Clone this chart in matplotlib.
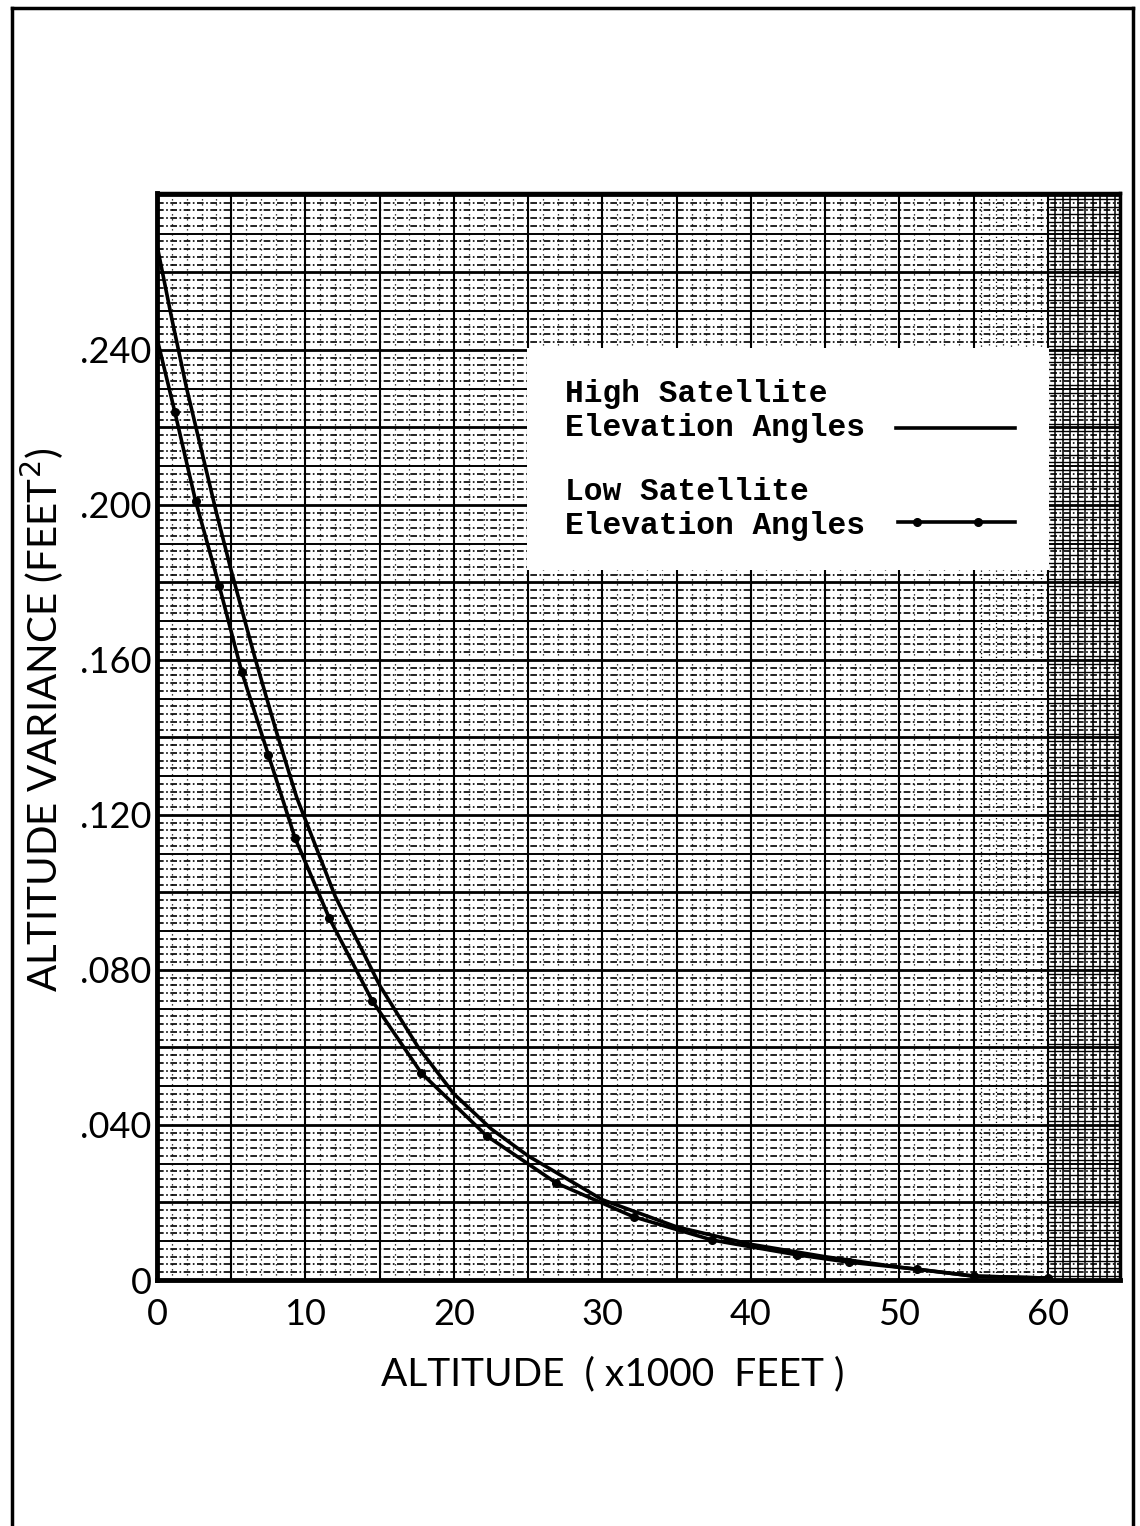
import matplotlib.pyplot as plt
import numpy as np
from matplotlib.lines import Line2D
from matplotlib.patches import Rectangle

# high satellite elevation angles (solid line)
high_alt = [0, 1, 2, 3, 4, 5, 6.6, 8, 9.4, 12, 15, 17.6, 20, 22.5, 25,
            30, 35, 40, 45, 50, 55, 60]
high_var = [0.267, 0.248, 0.230, 0.214, 0.198, 0.183, 0.1605, 0.142, 0.1246,
            0.099, 0.076, 0.060, 0.048, 0.039, 0.032, 0.0207, 0.0137, 0.0092,
            0.0060, 0.0033, 0.0010, 0.0005]

# low satellite elevation angles (line with dots)
low_alt = [0, 1.2, 2.6, 4.2, 5.7, 7.5, 9.3, 11.6, 14.5, 17.8, 22.2, 26.9,
           32.1, 37.4, 43.1, 46.6, 51.2, 55, 60]
low_var = [0.243, 0.224, 0.201, 0.179, 0.157, 0.1355, 0.114, 0.0934, 0.072,
           0.0534, 0.0372, 0.025, 0.0163, 0.0103, 0.0065, 0.0046, 0.0028,
           0.0010, 0.0005]

xticks = [0, 10, 20, 30, 40, 50, 60]
yticks = [0, 0.04, 0.08, 0.12, 0.16, 0.20, 0.24]
ytick_labels = ["0", ".040", ".080", ".120", ".160", ".200", ".240"]

XMAX = 64.85
YMAX = 0.2805

plt.rcParams['font.family'] = ['Lato', 'DejaVu Sans']

fig = plt.figure(figsize=(11.4, 15.26), dpi=100)
ax = fig.add_axes([157 / 1140, 1 - 1280 / 1526, 963 / 1140, 1087 / 1526])
ax.set_xlim(0, XMAX)
ax.set_ylim(0, YMAX)

# graph paper: horizontal rules
for yv in np.arange(0.002, YMAX, 0.002):
    n = int(round(yv / 0.002))
    if n % 10 == 0:
        ax.axhline(yv, color="black", lw=2.0, zorder=1)
    elif n % 5 == 0:
        ax.axhline(yv, color="black", lw=1.4, zorder=1)
    else:
        ax.axhline(yv, color="black", lw=1.2, ls=(0, (4, 1.5, 1, 1.5)), zorder=1)

# graph paper: vertical rules, getting denser towards the right edge
for xv in np.arange(1, XMAX, 1.0):
    if xv % 5 == 0:
        ax.axvline(xv, color="black", lw=1.5, zorder=1)
    else:
        ax.axvline(xv, color="black", lw=0.9, ls=(0, (1, 3)), zorder=1)
for xv in np.arange(55.5, 60, 1.0):
    ax.axvline(xv, color="black", lw=0.9, ls=(0, (1, 2)), zorder=1)
for xv in np.arange(60.5, XMAX, 0.5):
    ax.axvline(xv, color="black", lw=1.1, zorder=1)
for yv in np.arange(0.001, YMAX, 0.002):
    ax.plot([60, XMAX], [yv, yv], color="black", lw=1.0, zorder=1)

ax.plot(high_alt, high_var, color="black", lw=2.6, zorder=4)
ax.plot(low_alt, low_var, color="black", lw=2.6, marker="o", markersize=5.5,
        markevery=slice(1, None), zorder=4)

ax.set_xticks(xticks)
ax.set_xticklabels([str(v) for v in xticks])
ax.set_yticks(yticks)
ax.set_yticklabels(ytick_labels)
ax.tick_params(length=0, labelsize=26, pad=4)
ax.tick_params(axis="x", pad=13)

for side in ["left", "bottom"]:
    ax.spines[side].set_linewidth(3.5)
for side in ["top", "right"]:
    ax.spines[side].set_linewidth(2.5)

ax.set_xlabel("ALTITUDE  ( x1000  FEET )", fontsize=28)
ax.xaxis.set_label_coords((613 - 157) / 963, -0.07)
ax.set_ylabel("ALTITUDE VARIANCE (FEET$^2$)", fontsize=29)
ax.yaxis.set_label_coords(-0.095, 0.515)

# legend box
ax.add_patch(Rectangle((0.384, 0.653), 0.542, 0.204, transform=ax.transAxes,
                       facecolor="white", edgecolor="none", zorder=5))
lfont = dict(family="Liberation Mono", weight="bold", fontsize=22.5,
             transform=ax.transAxes, zorder=6, va="center", ha="left")
ax.text(0.424, 0.815, "High Satellite", **lfont)
ax.text(0.424, 0.784, "Elevation Angles", **lfont)
ax.text(0.424, 0.725, "Low Satellite", **lfont)
ax.text(0.424, 0.694, "Elevation Angles", **lfont)
ax.add_line(Line2D([0.767, 0.891], [0.784, 0.784], transform=ax.transAxes,
                   color="black", lw=2.6, zorder=6))
ax.add_line(Line2D([0.769, 0.891], [0.697, 0.697], transform=ax.transAxes,
                   color="black", lw=2.6, zorder=6))
ax.add_line(Line2D([0.789, 0.853], [0.697, 0.697], transform=ax.transAxes,
                   color="black", lw=0, marker="o", markersize=5.5, zorder=6))

# page frame
fig.add_artist(Line2D([12 / 1140, 12 / 1140], [0, 1 - 8 / 1526],
                      transform=fig.transFigure, color="black", lw=2.5))
fig.add_artist(Line2D([12 / 1140, 1133 / 1140], [1 - 8 / 1526, 1 - 8 / 1526],
                      transform=fig.transFigure, color="black", lw=2.5))
fig.add_artist(Line2D([1133 / 1140, 1133 / 1140], [0, 1 - 8 / 1526],
                      transform=fig.transFigure, color="black", lw=2.5))

fig.savefig("out.png", dpi=100)
